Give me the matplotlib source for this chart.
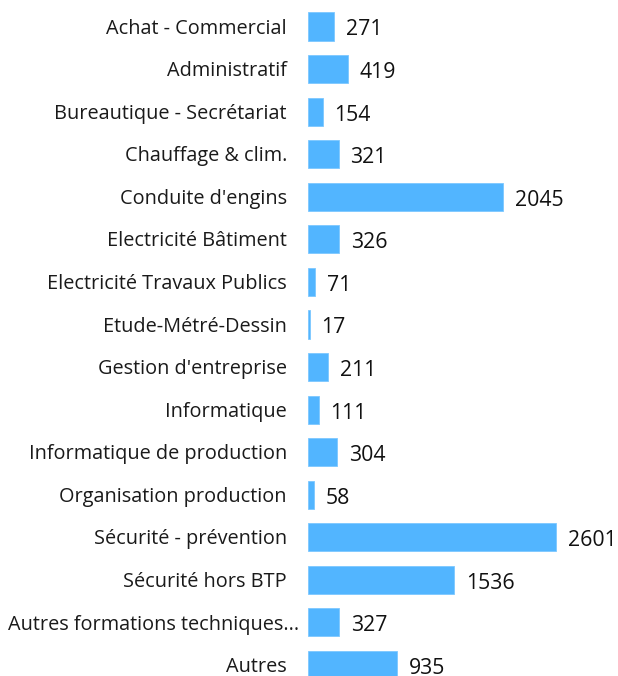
import matplotlib.pyplot as plt

categories = [
    "Achat - Commercial", "Administratif", "Bureautique - Secrétariat",
    "Chauffage & clim.", "Conduite d'engins", "Electricité Bâtiment",
    "Electricité Travaux Publics", "Etude-Métré-Dessin", "Gestion d'entreprise",
    "Informatique", "Informatique de production", "Organisation production",
    "Sécurité - prévention", "Sécurité hors BTP",
    "Autres formations techniques...", "Autres",
]
values = [271, 419, 154, 321, 2045, 326, 71, 17, 211, 111, 304, 58, 2601, 1536, 327, 935]

plt.rcParams['font.family'] = ['Open Sans', 'DejaVu Sans']

fig = plt.figure(figsize=(6.18, 6.76), dpi=100)
W, H = 618, 676
# axes spans from the bar origin to the right edge, full height
ax = fig.add_axes([308 / W, 0, (610 - 308) / W, 1])

pos = list(range(len(categories)))
ax.barh(pos, values, height=0.66, color='#52b5ff', edgecolor='#7cc8ff', linewidth=0.6)

ax.set_xlim(0, 2601 * (610 - 308) / (556 - 308))
ax.set_ylim(15.258, -0.622)
ax.set_xticks([])
ax.set_yticks([])
for s in ax.spines.values():
    s.set_visible(False)

# category labels, right aligned left of the bars (the truncated one sits a bit further right)
for p, c in zip(pos, categories):
    dx = -6.5 if c.endswith('...') else -15.2
    ax.annotate(c, (0, p), xytext=(dx, -1.5), textcoords='offset points',
                va='center', ha='right', fontsize=14.3, color='#1a1a1a',
                annotation_clip=False)

for p, v in zip(pos, values):
    ax.annotate(str(v), (v, p), xytext=(8.5, -2.5), textcoords='offset points',
                va='center', ha='left', fontsize=15.3, color='#111111',
                annotation_clip=False)

fig.savefig('out.png', dpi=100)
